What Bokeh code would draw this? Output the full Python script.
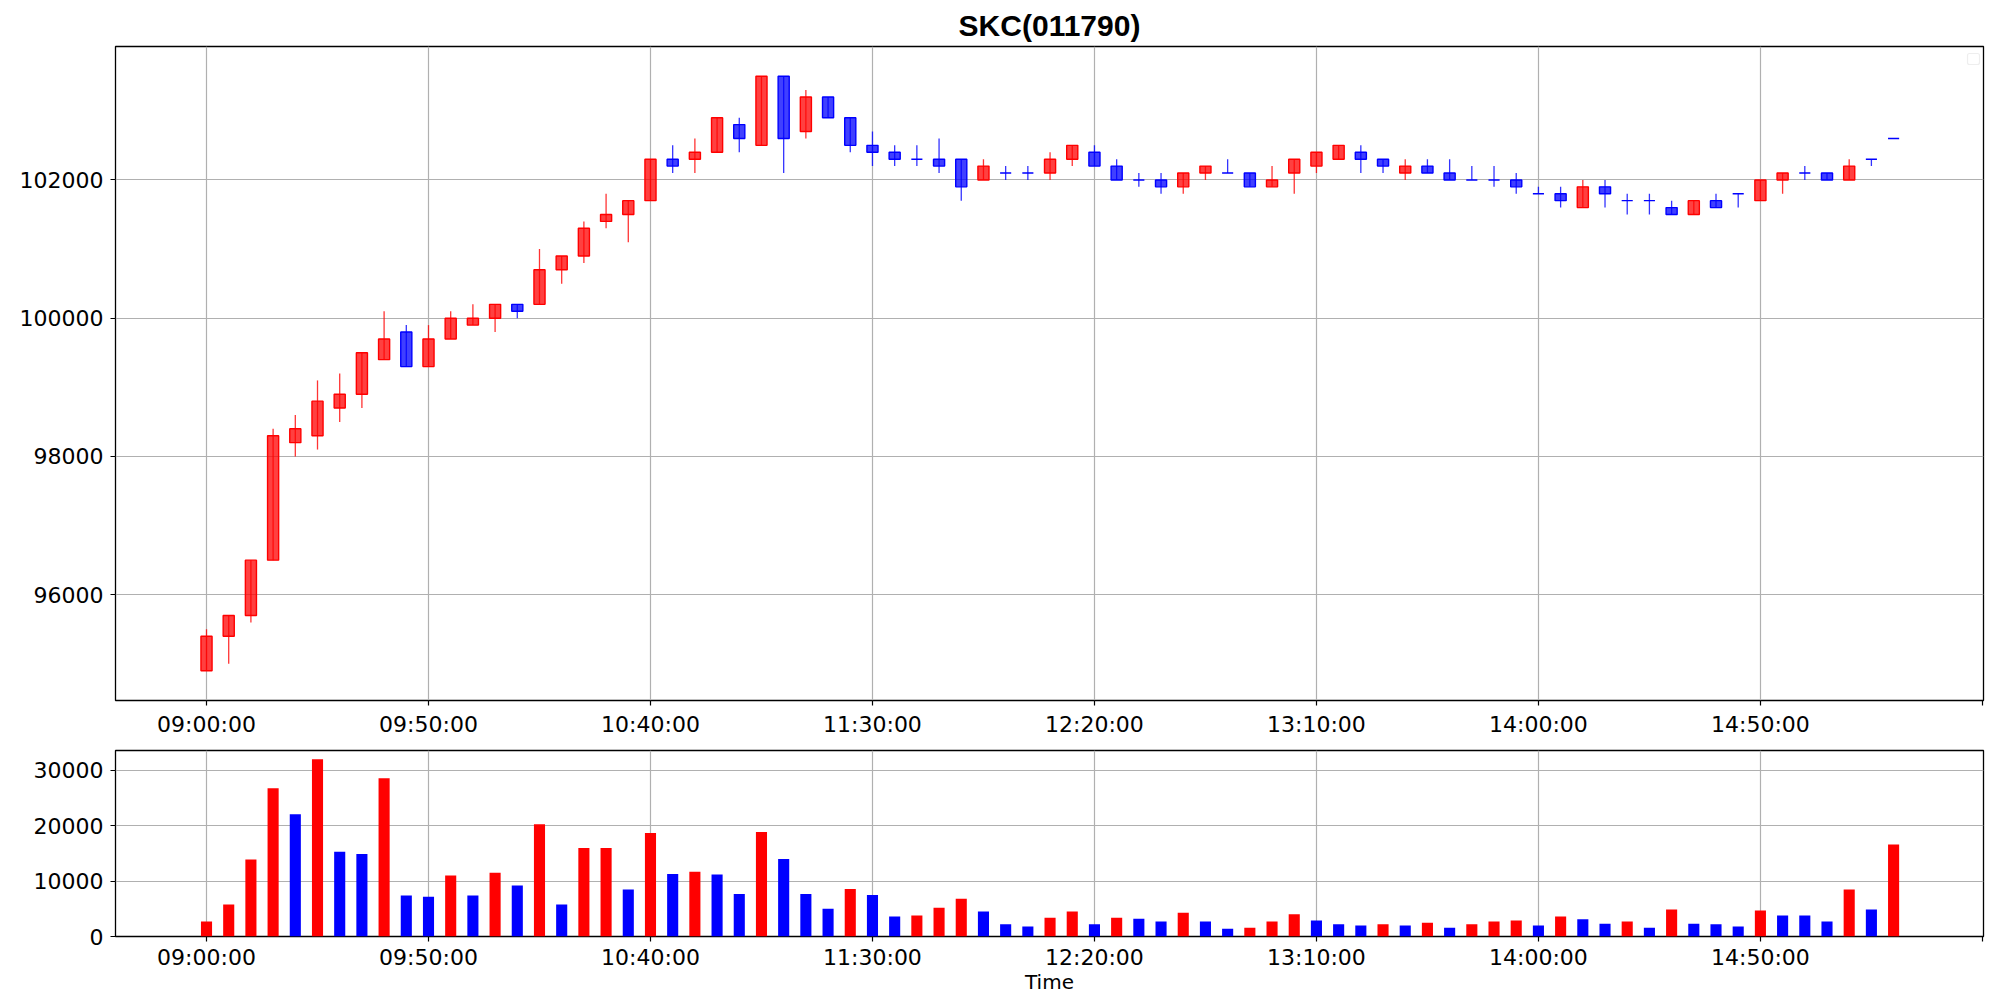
from bokeh.plotting import figure
from bokeh.models import ColumnDataSource, FixedTicker, Range1d, BoxAnnotation, NumeralTickFormatter
from bokeh.layouts import column
from bokeh.embed import file_html
from bokeh.resources import INLINE

try:
    from bokeh.models import Node
except ImportError:
    try:
        from bokeh.models.nodes import Node
    except ImportError:
        Node = None

# ---- data (5-minute bars, index 0 = 09:00) ----
opens = [94900, 95400, 95700, 96500, 98200, 98300, 98700, 98900, 99400, 99800,
         99300, 99700, 99900, 100000, 100200, 100200, 100700, 100900, 101400, 101500,
         101700, 102300, 102300, 102400, 102800, 102500, 103500, 102700, 103200, 102900,
         102500, 102400, 102300, 102300, 102300, 102000, 102100, 102100, 102100, 102300,
         102400, 102200, 102000, 102000, 101900, 102100, 102100, 102100, 101900, 102100,
         102200, 102300, 102400, 102300, 102100, 102200, 102100, 102000, 102000, 102000,
         101800, 101800, 101600, 101900, 101700, 101700, 101600, 101500, 101700, 101800,
         101700, 102000, 102100, 102100, 102000, 102300, 102600]
highs = [95500, 95700, 96500, 98400, 98600, 99100, 99200, 99500, 100100, 99900,
         99900, 100100, 100200, 100200, 100200, 101000, 100900, 101400, 101800, 101700,
         102300, 102500, 102600, 102900, 102900, 103500, 103500, 103300, 103200, 102900,
         102700, 102500, 102500, 102600, 102300, 102300, 102200, 102200, 102400, 102500,
         102500, 102300, 102100, 102100, 102100, 102200, 102300, 102100, 102200, 102300,
         102400, 102500, 102500, 102300, 102300, 102300, 102300, 102200, 102200, 102100,
         101900, 101900, 102000, 102000, 101800, 101800, 101700, 101700, 101800, 101800,
         102000, 102100, 102200, 102100, 102300, 102300, 102600]
lows = [94900, 95000, 95600, 96500, 98000, 98100, 98500, 98700, 99400, 99300,
        99300, 99700, 99900, 99800, 100000, 100200, 100500, 100800, 101300, 101100,
        101700, 102100, 102100, 102400, 102400, 102500, 102100, 102600, 102900, 102400,
        102200, 102200, 102200, 102100, 101700, 102000, 102000, 102000, 102000, 102200,
        102200, 102000, 101900, 101800, 101800, 102000, 102100, 101900, 101900, 101800,
        102100, 102300, 102100, 102100, 102000, 102100, 102000, 102000, 101900, 101800,
        101800, 101600, 101600, 101600, 101500, 101500, 101500, 101500, 101600, 101600,
        101700, 101800, 102000, 102000, 102000, 102200, 102600]
closes = [95400, 95700, 96500, 98300, 98400, 98800, 98900, 99500, 99700, 99300,
          99700, 100000, 100000, 100200, 100100, 100700, 100900, 101300, 101500, 101700,
          102300, 102200, 102400, 102900, 102600, 103500, 102600, 103200, 102900, 102500,
          102400, 102300, 102300, 102200, 101900, 102200, 102100, 102100, 102300, 102500,
          102200, 102000, 102000, 101900, 102100, 102200, 102100, 101900, 102000, 102300,
          102400, 102500, 102300, 102200, 102200, 102100, 102000, 102000, 102000, 101900,
          101800, 101700, 101900, 101800, 101700, 101700, 101500, 101700, 101600, 101800,
          102000, 102100, 102100, 102000, 102200, 102300, 102600]
volumes = [2700, 5800, 13900, 26800, 22100, 32000, 15300, 14900, 28600, 7400,
           7200, 11000, 7400, 11500, 9200, 20300, 5800, 16000, 16000, 8500,
           18700, 11300, 11700, 11200, 7700, 18900, 14000, 7700, 5000, 8600,
           7500, 3600, 3800, 5200, 6800, 4500, 2200, 1800, 3400, 4500,
           2200, 3400, 3200, 2700, 4300, 2700, 1400, 1600, 2700, 4000,
           2900, 2200, 2000, 2200, 2000, 2500, 1600, 2200, 2700, 2900,
           2000, 3600, 3100, 2300, 2700, 1600, 4900, 2300, 2200, 1800,
           4700, 3800, 3800, 2700, 8500, 4900, 16600]
# volume bar direction (R = red, B = blue)
volume_dir = "RRRRBRBBRBBRBRBRBRRBRBRBBRBBBRBBRRRBBBRRBRBBRBBRRRBBBRBRBRRRBRBBRBRBBBRBBBRBR"
tick_pos = [0, 10, 20, 30, 40, 50, 60, 70, 80]
tick_labels = ["09:00:00", "09:50:00", "10:40:00", "11:30:00", "12:20:00",
               "13:10:00", "14:00:00", "14:50:00", ""]
price_ticks = [96000, 98000, 100000, 102000]
volume_ticks = [0, 10000, 20000, 30000]

n = len(opens)
xs = list(range(n))
ccol = ["red" if c > o else "blue" for o, c in zip(opens, closes)]
src = ColumnDataSource(dict(
    x=xs, high=highs, low=lows,
    top=[max(o, c) for o, c in zip(opens, closes)],
    bottom=[min(o, c) for o, c in zip(opens, closes)],
    color=ccol,
))
vsrc = ColumnDataSource(dict(
    x=xs, vol=volumes,
    color=["red" if d == "R" else "blue" for d in volume_dir],
))

lo, hi = min(lows), max(highs)
pad = (hi - lo) * 0.05
xr = Range1d(-4.1, 80.05)

FONT = "DejaVu Sans"


def style(p, xstand):
    p.outline_line_color = "black"
    p.outline_line_width = 1.3
    p.outline_line_alpha = 1.0
    p.background_fill_color = "white"
    p.border_fill_color = "white"
    for ax in list(p.xaxis) + list(p.yaxis):
        ax.axis_line_color = None
        ax.major_tick_line_color = "black"
        ax.major_tick_line_width = 1.2
        ax.major_tick_out = 5
        ax.major_tick_in = 0
        ax.minor_tick_line_color = None
        ax.major_label_text_font = FONT
        ax.major_label_text_font_size = "22px"
        ax.major_label_text_color = "black"
    for ax in p.yaxis:
        ax.major_label_standoff = 7
    for ax in p.xaxis:
        ax.major_label_standoff = xstand
        ax.ticker = FixedTicker(ticks=tick_pos)
        ax.major_label_overrides = {t: l for t, l in zip(tick_pos, tick_labels)}
    for g in list(p.xgrid) + list(p.ygrid):
        g.grid_line_color = "#b0b0b0"
        g.grid_line_width = 1.2
    p.xgrid.ticker = FixedTicker(ticks=tick_pos[:-1])


p1 = figure(frame_width=1868, frame_height=654, x_range=xr,
            y_range=Range1d(lo - pad, hi + pad),
            output_backend="svg", toolbar_location=None,
            min_border_left=115, min_border_right=8, min_border_top=46, min_border_bottom=45)
p1.title.text = "SKC(011790)"
p1.title.align = "center"
p1.title.text_font = "Liberation Sans"
p1.title.text_font_style = "bold"
p1.title.text_font_size = "30px"
p1.title.text_color = "black"
p1.title.standoff = 9

p1.segment(x0="x", y0="low", x1="x", y1="high", line_color="color",
           line_width=1.3, line_alpha=0.8, source=src)
p1.vbar(x="x", width=0.5, top="top", bottom="bottom", fill_color="color",
        fill_alpha=0.75, line_color="color", line_width=1.4, source=src)
style(p1, 6)
p1.yaxis.ticker = FixedTicker(ticks=price_ticks)
p1.ygrid.ticker = FixedTicker(ticks=price_ticks)
p1.yaxis.formatter = NumeralTickFormatter(format="0")

# empty legend box at top-right
if Node is not None:
    box = BoxAnnotation(
        left=Node(target="frame", symbol="right", offset=-16),
        right=Node(target="frame", symbol="right", offset=-4),
        top=Node(target="frame", symbol="top", offset=7),
        bottom=Node(target="frame", symbol="top", offset=18),
        fill_color="white", fill_alpha=1.0, line_color="#c8c8c8", line_width=1.2,
        border_radius=2, level="overlay")
    p1.add_layout(box)

p2 = figure(frame_width=1868, frame_height=186, x_range=xr,
            y_range=Range1d(0, max(volumes) * 1.05),
            output_backend="svg", toolbar_location=None,
            min_border_left=115, min_border_right=8, min_border_top=5, min_border_bottom=50)
p2.vbar(x="x", width=0.5, top="vol", bottom=0, fill_color="color",
        line_color=None, source=vsrc)
style(p2, 3)
p2.yaxis.ticker = FixedTicker(ticks=volume_ticks)
p2.ygrid.ticker = FixedTicker(ticks=volume_ticks)
p2.yaxis.formatter = NumeralTickFormatter(format="0")
p2.xaxis.axis_label = "Time"
p2.xaxis.axis_label_text_font = FONT
p2.xaxis.axis_label_text_font_style = "normal"
p2.xaxis.axis_label_text_font_size = "20px"
p2.xaxis.axis_label_text_color = "black"
p2.xaxis.axis_label_standoff = -3

layout = column(p1, p2, spacing=0)
open("out.html", "w").write(file_html(layout, INLINE))
